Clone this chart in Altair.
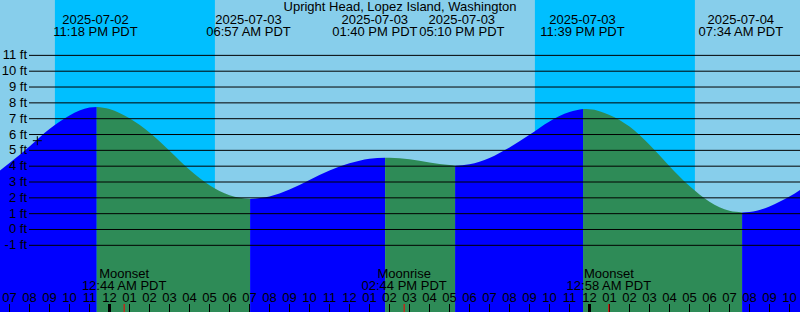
import altair as alt
import pandas as pd

TITLE = "Upright Head, Lopez Island, Washington"

# hours relative to 2025-07-03 00:00 PDT
X_MIN, X_MAX = -5.475, 34.525
Y_MIN, Y_MAX = -5.212, 14.498

# tide curve samples (hour, feet)
CURVE_H = [-6, -5, -4, -3, -2, -1, 0, 1, 2, 3, 4, 5, 6, 8, 9, 10, 11, 12, 13,
           14, 15, 16, 17, 18, 19, 20, 21, 22, 23, 24, 25, 26, 27, 28, 29, 30, 31,
           32, 33, 34, 35]
CURVE_FT = [3.20, 4.20, 5.25, 6.35, 7.20, 7.70, 7.62, 7.02, 6.12, 4.98, 3.78, 2.80,
            2.17, 2.08, 2.52, 3.12, 3.72, 4.18, 4.47, 4.53, 4.43, 4.24, 4.07,
            4.12, 4.52, 5.18, 5.98, 6.83, 7.42, 7.60, 7.24, 6.50, 5.35, 4.00, 2.75,
            1.76, 1.18, 1.10, 1.46, 2.08, 2.90]

# turning points of the drawn curve (hour, feet)
TURN_H = [-0.64, 7.03, 13.78, 17.28, 23.68, 31.63]

# high / low tide events
EVENT_H = [-0.7, 6.95, 13.667, 17.167, 23.65, 31.567]
EVENT_FT = [7.74, 1.93, 4.54, 4.03, 7.61, 1.08]
EVENT_DATE = ["2025-07-02", "2025-07-03", "2025-07-03", "2025-07-03", "2025-07-03", "2025-07-04"]
EVENT_TIME = ["11:18 PM PDT", "06:57 AM PDT", "01:40 PM PDT", "05:10 PM PDT", "11:39 PM PDT", "07:34 AM PDT"]
EVENT_NUDGE_PX = [0, 0, -8, 9, 0, 0]

# night periods (deep sky blue)
NIGHT_START = [-2.73, 21.27]
NIGHT_END = [5.27, 29.27]

# moon events
MOON_H = [0.733, 14.733, 24.967]
MOON_NAME = ["Moonset", "Moonrise", "Moonset"]
MOON_TIME = ["12:44 AM PDT", "02:44 PM PDT", "12:58 AM PDT"]

# hour ticks
HOUR_H = list(range(-5, 35))
HOUR_LABELS = ["07", "08", "09", "10", "11", "12", "01", "02", "03", "04", "05", "06",
               "07", "08", "09", "10", "11", "12", "01", "02", "03", "04", "05", "06",
               "07", "08", "09", "10", "11", "12", "01", "02", "03", "04", "05", "06",
               "07", "08", "09", "10"]
MIDNIGHT_H = [0, 24]

GRID_FT = list(range(-1, 12))
GRID_LABELS = [f"{v} ft" for v in GRID_FT]

MARK_H = [-3.61]
MARK_FT = [5.61]

FONT = "Liberation Sans"

# ---- build tables ----
pts = sorted(list(zip(CURVE_H, CURVE_FT)) + list(zip(TURN_H, EVENT_FT)))
bounds = [-100] + TURN_H + [100]
rows = []
for s in range(len(bounds) - 1):
    lo, hi = bounds[s], bounds[s + 1]
    if s < len(EVENT_FT):
        rising = s == 0 or EVENT_FT[s] > EVENT_FT[s - 1]
    else:
        rising = EVENT_FT[-1] < EVENT_FT[-2]
    for h, f in pts:
        if lo - 1e-9 <= h <= hi + 1e-9:
            rows.append({"h": h, "ft": f, "seg": s, "dir": "rising" if rising else "falling"})
tide = pd.DataFrame(rows)

nights = pd.DataFrame({"h1": NIGHT_START, "h2": NIGHT_END})
grid = pd.DataFrame({"ft": GRID_FT, "label": GRID_LABELS})
events = pd.DataFrame({"h": EVENT_H, "date": EVENT_DATE, "time": EVENT_TIME, "nudge": EVENT_NUDGE_PX})
moons = pd.DataFrame({"h": MOON_H, "name": MOON_NAME, "time": MOON_TIME})
hours = pd.DataFrame({"h": HOUR_H, "label": HOUR_LABELS})
mids = pd.DataFrame({"h": MIDNIGHT_H})
mark = pd.DataFrame({"h": MARK_H, "ft": MARK_FT})
title = pd.DataFrame({"t": [TITLE]})

xs = alt.Scale(domain=[X_MIN, X_MAX], nice=False, zero=False)
ys = alt.Scale(domain=[Y_MIN, Y_MAX], nice=False, zero=False)
X = lambda f="h": alt.X(f"{f}:Q", scale=xs, axis=None)
Y = lambda f="ft": alt.Y(f"{f}:Q", scale=ys, axis=None)

bands = alt.Chart(nights).mark_rect(color="#00BFFF").encode(
    x=X("h1"), x2="h2:Q", y=alt.value(0), y2=alt.value(312))

area = alt.Chart(tide).mark_area(interpolate="monotone", opacity=1).encode(
    x=X(), y=Y(), y2=alt.datum(Y_MIN),
    color=alt.Color("dir:N", scale=alt.Scale(domain=["rising", "falling"], range=["#0000FF", "#2E8B57"]), legend=None),
    detail="seg:N")

gridlines = alt.Chart(grid).mark_rule(color="black", strokeWidth=1).encode(
    y=Y(), x=alt.value(29), x2=alt.value(800))

gridtext = alt.Chart(grid).mark_text(align="right", baseline="middle", font=FONT, fontSize=13, color="black").encode(
    y=Y(), x=alt.value(27), text="label:N")

plus = alt.Chart(mark).mark_point(shape="M-1,0L1,0M0,-1L0,1", size=81, filled=False, stroke="black", strokeWidth=1, opacity=1).encode(
    x=X(), y=Y())

ev = alt.Chart(events).transform_calculate(hx="datum.h + datum.nudge / 20")
evdate = ev.mark_text(align="center", baseline="alphabetic", font=FONT, fontSize=13, color="black").encode(
    x=X("hx"), y=alt.value(24), text="date:N")
evtime = ev.mark_text(align="center", baseline="alphabetic", font=FONT, fontSize=13, color="black").encode(
    x=X("hx"), y=alt.value(36), text="time:N")

ttl = alt.Chart(title).mark_text(align="center", baseline="alphabetic", font=FONT, fontSize=13, color="black").encode(
    x=alt.value(400), y=alt.value(11), text="t:N")

moonname = alt.Chart(moons).mark_text(align="center", baseline="alphabetic", font=FONT, fontSize=13, color="black").encode(
    x=X(), y=alt.value(278), text="name:N")
moontime = alt.Chart(moons).mark_text(align="center", baseline="alphabetic", font=FONT, fontSize=13, color="black").encode(
    x=X(), y=alt.value(290), text="time:N")
moontick = alt.Chart(moons).mark_rule(color="#FF0000", strokeWidth=1).encode(
    x=X(), y=alt.value(304), y2=alt.value(312))

hourtext = alt.Chart(hours).mark_text(align="center", baseline="alphabetic", font=FONT, fontSize=13, color="black").encode(
    x=X(), y=alt.value(302), text="label:N")
hourtick = alt.Chart(hours).mark_rule(color="black", strokeWidth=1).encode(
    x=X(), y=alt.value(304), y2=alt.value(312))
midtick = alt.Chart(mids).mark_rule(color="black", strokeWidth=3).encode(
    x=X(), y=alt.value(304), y2=alt.value(312))

chart = alt.layer(
    bands, area, gridlines, gridtext, plus, evdate, evtime, ttl,
    moonname, moontime, hourtext, hourtick, midtick, moontick
).properties(
    width=800, height=312, padding=0, autosize=alt.AutoSizeParams(type="none"), background="#87CEEB"
).configure_view(stroke=None)

chart.save("out.html", embed_options={"renderer": "svg", "actions": False})
